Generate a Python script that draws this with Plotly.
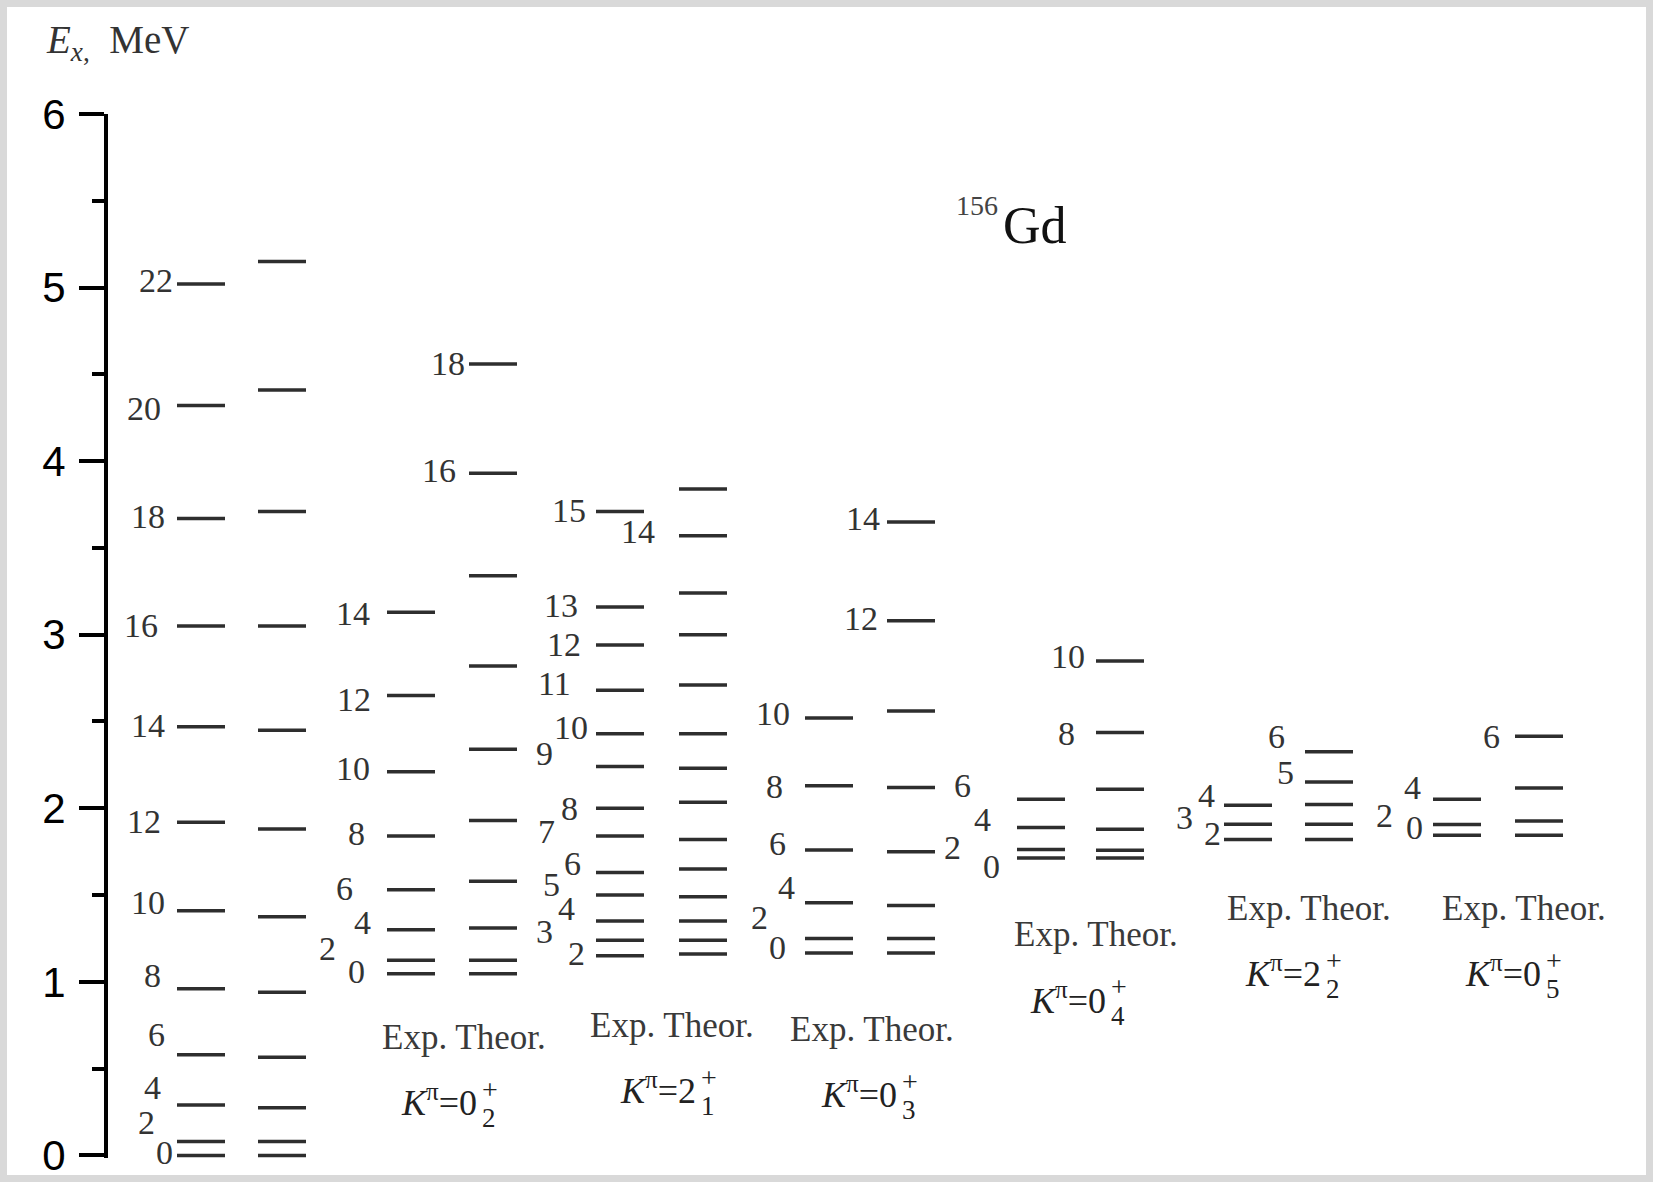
import plotly.graph_objects as go

# ---------------- data: level energies (MeV) read from the scheme ----------------
gs_exp_spins = [0, 2, 4, 6, 8, 10, 12, 14, 16, 18, 20, 22]
gs_exp_E = [0.0, 0.08, 0.29, 0.58, 0.96, 1.41, 1.92, 2.47, 3.05, 3.67, 4.32, 5.02]
gs_th_spins = [0, 2, 4, 6, 8, 10, 12, 14, 16, 18, 20, 22]
gs_th_E = [0.0, 0.08, 0.275, 0.565, 0.94, 1.375, 1.88, 2.45, 3.05, 3.71, 4.41, 5.15]

b02_exp_spins = [0, 2, 4, 6, 8, 10, 12, 14]
b02_exp_E = [1.047, 1.125, 1.30, 1.53, 1.84, 2.21, 2.65, 3.13]
b02_th_spins = [0, 2, 4, 6, 8, 10, 12, 14, 16, 18]
b02_th_E = [1.047, 1.125, 1.31, 1.58, 1.93, 2.34, 2.82, 3.34, 3.93, 4.56]

g21_exp_spins = [2, 3, 4, 5, 6, 7, 8, 9, 10, 11, 12, 13, 15]
g21_exp_E = [1.15, 1.24, 1.35, 1.50, 1.63, 1.84, 2.00, 2.24, 2.43, 2.68, 2.94, 3.16, 3.71]
g21_th_spins = [2, 3, 4, 5, 6, 7, 8, 9, 10, 11, 12, 13, 14, 15]
g21_th_E = [1.16, 1.24, 1.35, 1.49, 1.65, 1.82, 2.035, 2.23, 2.43, 2.71, 3.00, 3.24, 3.57, 3.84]

b03_exp_spins = [0, 2, 4, 6, 8, 10]
b03_exp_E = [1.166, 1.25, 1.456, 1.76, 2.13, 2.52]
b03_th_spins = [0, 2, 4, 6, 8, 10, 12, 14]
b03_th_E = [1.166, 1.25, 1.44, 1.75, 2.12, 2.56, 3.08, 3.65]

b04_exp_spins = [0, 2, 4, 6]
b04_exp_E = [1.714, 1.762, 1.889, 2.052]
b04_th_spins = [0, 2, 4, 6, 8, 10]
b04_th_E = [1.714, 1.758, 1.879, 2.11, 2.436, 2.849]

g22_exp_spins = [2, 3, 4]
g22_exp_E = [1.82, 1.908, 2.017]
g22_th_spins = [2, 3, 4, 5, 6]
g22_th_E = [1.82, 1.908, 2.021, 2.152, 2.325]

b05_exp_spins = [0, 2, 4]
b05_exp_E = [1.844, 1.906, 2.052]
b05_th_spins = [0, 2, 4, 6]
b05_th_E = [1.844, 1.927, 2.117, 2.415]

band_keys = ["gs", "b02", "g21", "b03", "b04", "g22", "b05"]
band_K = {"b02": ("0", "2"), "g21": ("2", "1"), "b03": ("0", "3"),
          "b04": ("0", "4"), "g22": ("2", "2"), "b05": ("0", "5")}

levels = {
    "gs": (gs_exp_spins, gs_exp_E, gs_th_spins, gs_th_E),
    "b02": (b02_exp_spins, b02_exp_E, b02_th_spins, b02_th_E),
    "g21": (g21_exp_spins, g21_exp_E, g21_th_spins, g21_th_E),
    "b03": (b03_exp_spins, b03_exp_E, b03_th_spins, b03_th_E),
    "b04": (b04_exp_spins, b04_exp_E, b04_th_spins, b04_th_E),
    "g22": (g22_exp_spins, g22_exp_E, g22_th_spins, g22_th_E),
    "b05": (b05_exp_spins, b05_exp_E, b05_th_spins, b05_th_E),
}

# ---------------- layout / styling (horizontal axis in page pixels) ----------------
W, H = 1653, 1182
ML, MR, MT, MB = 108, 0, 114, 24
PW, PH = W - ML - MR, H - MT - MB
COL_X = {"gs": (177, 258), "b02": (387, 469), "g21": (596, 679), "b03": (805, 887),
         "b04": (1017, 1096), "g22": (1224, 1305), "b05": (1433, 1515)}
LINE_LEN = 48
LINE_COLOR = "#2e2e2e"
TEXT_COLOR = "#333333"
SERIF = "Liberation Serif, Times New Roman, serif"
SANS = "Liberation Sans, Arial, sans-serif"

# label placement: (column, spin, gap to line start in px, vertical shift in px)
LABELS = {
    "gs": [("e", 22, 2, 4), ("e", 20, 14, -3), ("e", 18, 10, 2), ("e", 16, 17, 1),
           ("e", 14, 10, 1), ("e", 12, 14, 1), ("e", 10, 10, 8), ("e", 8, 14, 13),
           ("e", 6, 10, 20), ("e", 4, 14, 18), ("e", 2, 20, 19), ("e", 0, 2, 3)],
    "b02": [("t", 18, 2, 0), ("t", 16, 11, 3), ("e", 14, 15, -1), ("e", 12, 14, -4),
            ("e", 10, 15, 3), ("e", 8, 20, 3), ("e", 6, 32, 1), ("e", 4, 14, 7),
            ("e", 2, 49, 12), ("e", 0, 20, 2)],
    "g21": [("e", 15, 8, 1), ("t", 14, 22, 4), ("e", 13, 16, 1), ("e", 12, 13, 1),
            ("e", 11, 23, 7), ("e", 10, 6, 6), ("e", 9, 41, 13), ("e", 8, 16, 0),
            ("e", 7, 39, 5), ("e", 6, 13, 9), ("e", 5, 34, 11), ("e", 4, 19, 13),
            ("e", 3, 41, 9), ("e", 2, 9, 2)],
    "b03": [("t", 14, 5, 3), ("t", 12, 7, 2), ("e", 10, 13, 5), ("e", 8, 20, -1),
            ("e", 6, 17, 6), ("e", 4, 8, 15), ("e", 2, 35, 21), ("e", 0, 17, 6)],
    "b04": [("t", 10, 9, 4), ("t", 8, 19, -1), ("e", 6, 44, 14), ("e", 4, 24, 8),
            ("e", 2, 54, 2), ("e", 0, 15, -9)],
    "g22": [("t", 6, 18, 15), ("t", 5, 9, 9), ("e", 4, 7, 10), ("e", 3, 29, 7),
            ("e", 2, 1, 6)],
    "b05": [("t", 6, 13, 0), ("e", 4, 10, 12), ("e", 2, 38, 9), ("e", 0, 8, 8)],
}
# header: (left x of "Exp. Theor.", y in MeV, left x of K label)
HEAD = {"b02": (380, 0.682, 388), "g21": (588, 0.751, 607), "b03": (788, 0.728, 808),
        "b04": (1012, 1.270, 1017), "g22": (1225, 1.425, 1232), "b05": (1440, 1.425, 1452)}
K_SPLIT = 91


def px_to_paper(px, py):
    return (px - ML) / PW, (H - MB - py) / PH


fig = go.Figure()

for key in band_keys:
    es, eE, ts, tE = levels[key]
    xe, xt = COL_X[key]
    for x0, E in ((xe, eE), (xt, tE)):
        xs, ys = [], []
        for v in E:
            xs += [x0, x0 + LINE_LEN, None]
            ys += [v, v, None]
        fig.add_trace(go.Scatter(x=xs, y=ys, mode="lines", showlegend=False,
                                 hoverinfo="skip",
                                 line=dict(color=LINE_COLOR, width=3.5)))

annotations = []
for key in band_keys:
    es, eE, ts, tE = levels[key]
    xe, xt = COL_X[key]
    for col, spin, gap, dy in LABELS[key]:
        if col == "e":
            E = eE[es.index(spin)]
            x0 = xe
        else:
            E = tE[ts.index(spin)]
            x0 = xt
        annotations.append(dict(x=x0 - gap, y=E, xref="x", yref="y", text=str(spin),
                                showarrow=False, xanchor="right", yanchor="middle",
                                yshift=dy, font=dict(family=SERIF, size=34, color=TEXT_COLOR)))

for key, (hx, hy, kx) in HEAD.items():
    annotations.append(dict(x=hx, y=hy, xref="x", yref="y", text="Exp. Theor.",
                            showarrow=False, xanchor="left", yanchor="middle",
                            font=dict(family=SERIF, size=35, color="#3a3a3a")))
    kval, kidx = band_K[key]
    xs = kx + K_SPLIT
    annotations.append(dict(x=xs, y=hy, xref="x", yref="y",
                            text="<i>K</i><sup>π</sup>=" + kval,
                            showarrow=False, xanchor="right", yanchor="bottom",
                            yshift=-88,
                            font=dict(family=SERIF, size=36, color="#222222")))
    annotations.append(dict(x=xs + 1, y=hy, xref="x", yref="y", text=kidx,
                            showarrow=False, xanchor="left", yanchor="middle",
                            yshift=-81,
                            font=dict(family=SERIF, size=27, color="#222222")))
    annotations.append(dict(x=xs + 1, y=hy, xref="x", yref="y", text="+",
                            showarrow=False, xanchor="left", yanchor="middle",
                            yshift=-52,
                            font=dict(family=SERIF, size=28, color="#222222")))

# nucleus label and axis title
annotations.append(dict(x=1000, y=5.47, xref="x", yref="y", text="156", showarrow=False,
                        xanchor="right", yanchor="middle",
                        font=dict(family=SERIF, size=28, color="#444444")))
annotations.append(dict(x=1001, y=5.355, xref="x", yref="y", text="Gd", showarrow=False,
                        xanchor="left", yanchor="middle",
                        font=dict(family=SERIF, size=52, color="#111111")))
tx, ty = px_to_paper(44, 42)
annotations.append(dict(x=tx, y=ty, xref="paper", yref="paper",
                        text="<i>E</i><sub><i>x</i>,</sub>\u2002MeV", showarrow=False,
                        xanchor="left", yanchor="middle",
                        font=dict(family=SERIF, size=39, color="#333333")))

fx0, fy0 = px_to_paper(7, 1175)
fx1, fy1 = px_to_paper(1646, 7)
fig.update_layout(
    width=W, height=H,
    margin=dict(l=ML, r=MR, t=MT, b=MB, pad=0),
    paper_bgcolor="#d9d9d9",
    plot_bgcolor="rgba(0,0,0,0)",
    showlegend=False,
    annotations=annotations,
    shapes=[dict(type="rect", xref="paper", yref="paper", layer="below",
                 x0=fx0, x1=fx1, y0=fy0, y1=fy1,
                 fillcolor="white", line=dict(width=0))],
    xaxis=dict(range=[ML, W - MR], visible=False, showgrid=False, zeroline=False),
    yaxis=dict(range=[-0.015, 6.0], tickmode="linear", tick0=0, dtick=1,
               showline=True, linecolor="black", linewidth=4,
               ticks="outside", ticklen=25, tickwidth=4, tickcolor="black",
               ticklabelstandoff=5,
               tickfont=dict(family=SANS, size=42, color="black"),
               showgrid=False, zeroline=False,
               minor=dict(dtick=0.5, ticks="outside", ticklen=12, tickwidth=3.5,
                          tickcolor="black", showgrid=False)),
)

fig.write_html("out.html",
               config={"displayModeBar": False},
               post_script="document.body.style.margin='0px';"
                           "document.body.style.overflow='hidden';")
